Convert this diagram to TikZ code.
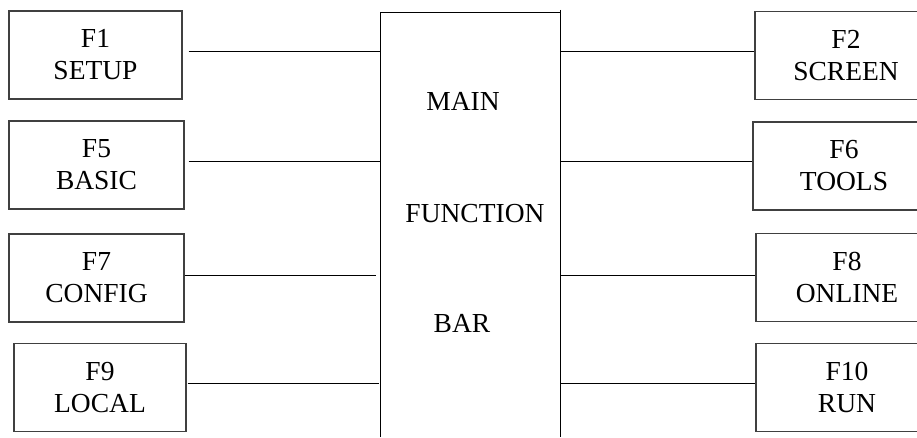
\documentclass[tikz,border=0pt]{standalone}
\usepackage{fontspec}
\setmainfont{Liberation Serif}
\usetikzlibrary{positioning}

\begin{document}
\begin{tikzpicture}[x=1pt, y=-1pt,
    key/.style={draw=black!75, line width=1.2pt, minimum height=88pt, inner sep=0pt, align=center, font=\fontsize{27.5}{32}\selectfont},
    link/.style={line width=1pt},
    label/.style={font=\fontsize{27.5}{30}\selectfont, inner sep=0pt}]
    \useasboundingbox (0,0) rectangle (917,437);
    % left column
    \node[key, minimum width=173pt] (F1) at (95.5,55) {F1\\SETUP};
    \node[key, minimum width=175pt] (F5) at (96.5,165) {F5\\BASIC};
    \node[key, minimum width=175pt] (F7) at (96.5,278) {F7\\CONFIG};
    \node[key, minimum width=172pt] (F9) at (100,387.5) {F9\\LOCAL};
    % right column, cut off by the page edge
    \node[key, minimum width=182pt] (F2) at (846,55.5) {F2\\SCREEN};
    \node[key, minimum width=182pt] (F6) at (844,166) {F6\\TOOLS};
    \node[key, minimum width=182pt] (F8) at (847,277.5) {F8\\ONLINE};
    \node[key, minimum width=182pt] (F10) at (847,387.5) {F10\\RUN};
    % main bar, open at the bottom
    \node[minimum width=179pt, minimum height=424pt, inner sep=0pt] (bar) at (470.5,225) {};
    \draw[link] (bar.south west) |- (bar.north east);
    \draw[link] ([yshift=3pt]bar.north east) -- (bar.south east);
    \node[label] (main) at (463,101) {MAIN};
    \node[label] (function) at (475,214) {FUNCTION};
    \node[label] (barlabel) at (462,323) {BAR};
    \draw[link] ([shift={(6pt,4pt)}]F1.east) -- ([yshift=4pt]F1.east -| bar.west);
    \draw[link] ([shift={(4pt,4pt)}]F5.east) -- ([yshift=4pt]F5.east -| bar.west);
    \draw[link] ([yshift=3pt]F7.east) -- ([shift={(-5pt,3pt)}]F7.east -| bar.west);
    \draw[link] ([shift={(1pt,4.5pt)}]F9.east) -- ([shift={(-2pt,4.5pt)}]F9.east -| bar.west);
    \draw[link] ([yshift=4.5pt]F2.west -| bar.east) -- ([yshift=4.5pt]F2.west);
    \draw[link] ([yshift=5pt]F6.west -| bar.east) -- ([yshift=5pt]F6.west);
    \draw[link] ([yshift=2.5pt]F8.west -| bar.east) -- ([yshift=2.5pt]F8.west);
    \draw[link] ([yshift=4.5pt]F10.west -| bar.east) -- ([yshift=4.5pt]F10.west);
\end{tikzpicture}
\end{document}
